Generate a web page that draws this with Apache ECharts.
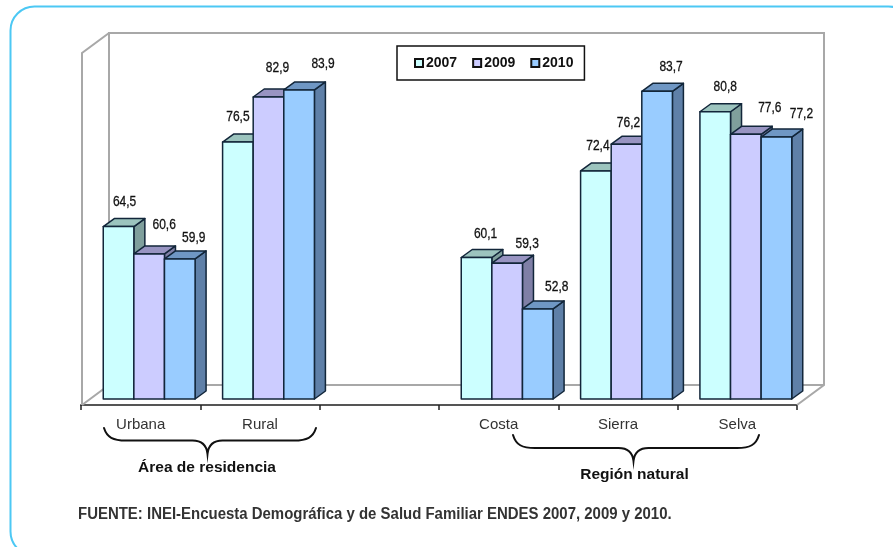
<!DOCTYPE html>
<html><head><meta charset="utf-8">
<style>html,body{margin:0;padding:0;background:#fff}#c{width:893px;height:547px}</style>
<script src="https://cdn.jsdelivr.net/npm/echarts@6/dist/echarts.min.js"></script>
</head><body><div id="c"></div>
<script>
const categories = ['Urbana', 'Rural', '', 'Costa', 'Sierra', 'Selva'];
const years = ['2007', '2009', '2010'];
const values2007 = [64.5, 76.5, null, 60.1, 72.4, 80.8];
const values2009 = [60.6, 82.9, null, 59.3, 76.2, 77.6];
const values2010 = [59.9, 83.9, null, 52.8, 83.7, 77.2];
const seriesValues = [values2007, values2009, values2010];

// appearance
const frontColors = ['#CCFFFF', '#CCCCFF', '#99CCFF'];
const topColors = ['#9CC4BE', '#9894C2', '#6F97C4'];
const sideColors = ['#7F9F9C', '#7F7FA6', '#5F80A8'];
const edge = '#12263A';
const barDepth = [11, -8], barShift = [8.5, -6], wallDepth = [27, -20];
// hand-placed value labels in the reference: [dx, dy] from the bar's front-top centre
const labelNudges = [
  [[6,-25],[0,-25],null,[9,-24],[2,-25],[10,-25]],
  [[15,-29],[9,-29],null,[20,-19],[2,-21],[24,-26]],
  [[14,-21],[24,-26],null,[19,-22],[14,-24],[25,-23]]
];

function poly(points, fill) {
  return {type:'polygon', shape:{points}, style:{fill, stroke:edge, lineWidth:1.5, lineJoin:'round'}};
}
function barRender(s) {
  return function (params, api) {
    const v = api.value(1);
    if (v == null || isNaN(v)) return;
    const i = api.value(0);
    const band = api.size([1, 0])[0];
    const w = band * 0.2565;
    const base = api.coord([i, 40]), top = api.coord([i, v]);
    const l = base[0] + barShift[0] + (s - 1.5) * w, r = l + w;
    const yt = top[1] + barShift[1], yb = base[1] + barShift[1];
    const [dx, dy] = barDepth;
    const nudge = labelNudges[s][i];
    return {type:'group', children:[
      poly([[r,yt],[r+dx,yt+dy],[r+dx,yb+dy],[r,yb]], sideColors[s]),
      poly([[l,yt],[l+dx,yt+dy],[r+dx,yt+dy],[r,yt]], topColors[s]),
      poly([[l,yt],[r,yt],[r,yb],[l,yb]], frontColors[s]),
      {type:'text', z2:100, x:(l+r)/2+nudge[0], y:yt+nudge[1], scaleX:0.8, style:{
        text:v.toFixed(1).replace('.', ','), align:'center', verticalAlign:'middle',
        font:'15px "Liberation Sans",sans-serif', fill:'#111', stroke:'#111', lineWidth:0.3}}
    ]};
  };
}
const braceStyle = {fill:'none', stroke:'#111', lineWidth:2, lineCap:'round'};
function brace(x1, x2, xm, y0, yh, yt) {
  return {type:'path', shape:{pathData:
    `M${x1} ${y0} C${x1+3} ${yh-3} ${x1+9} ${yh} ${x1+22} ${yh} L${xm-15} ${yh} C${xm-7} ${yh} ${xm-1} ${yh+4} ${xm} ${yt} ` +
    `C${xm+1} ${yh+4} ${xm+7} ${yh} ${xm+15} ${yh} L${x2-22} ${yh} C${x2-9} ${yh} ${x2-3} ${yh-3} ${x2} ${y0}`}, style:braceStyle};
}
function frameRender(params) {
  const c = params.coordSys;
  const x0 = c.x + 1, x1 = c.x + c.width, y0 = c.y, y1 = c.y + c.height;
  const [dx, dy] = wallDepth;
  const st = {fill:'none', stroke:'#A8A8A8', lineWidth:2};
  return {type:'group', children:[
    {type:'polyline', shape:{points:[[x0+dx,y1+dy],[x0+dx,y0+dy],[x1+dx,y0+dy],[x1+dx,y1+dy],[x1,y1]]}, style:st},
    {type:'polyline', shape:{points:[[x1+dx,y1+dy],[x0+dx,y1+dy],[x0,y1]]}, style:st},
    {type:'polyline', shape:{points:[[x0,y1],[x0,y0],[x0+dx,y0+dy]]}, style:st},
    brace(104, 316, 207.5, 428, 440.5, 454),
    brace(513, 759, 633.5, 435, 448, 461)
  ]};
}
function caption(text, x, y, font, fill) {
  return {type:'text', x, y, style:{text, font, fill, align:'center', verticalAlign:'middle'}, z:5};
}

const chart = echarts.init(document.getElementById('c'), null, {renderer:'canvas'});
chart.setOption({
  animation:false,
  backgroundColor:'#fff',
  grid:{left:81, top:53, width:716, height:352},
  xAxis:{type:'category', data:categories, boundaryGap:true,
    axisLine:{lineStyle:{color:'#555', width:2}},
    axisTick:{show:true, length:5, alignWithLabel:false, interval:0, lineStyle:{color:'#222', width:1.5}},
    axisLabel:{interval:0, margin:12, color:'#333', fontFamily:'Liberation Sans', fontSize:15}},
  yAxis:{type:'value', min:40, max:90, show:false, splitLine:{show:false}},
  legend:{left:397, top:46, orient:'horizontal', icon:'rect', data:years,
    itemWidth:8, itemHeight:8, itemGap:15, padding:[10,11,10,17],
    backgroundColor:'#fff', borderColor:'#111', borderWidth:1.5,
    selectedMode:false,
    textStyle:{color:'#111', fontFamily:'Liberation Sans', fontWeight:'bold', fontSize:14, padding:[0,0,0,-2]}},
  series:[
    {type:'custom', name:'frame', silent:true, z:1, data:[[0,40]], renderItem:frameRender, encode:{x:0,y:1}},
    ...years.map((y, s) => ({
      type:'custom', name:y, z:2, renderItem:barRender(s),
      itemStyle:{color:frontColors[s], borderColor:'#111', borderWidth:2},
      encode:{x:0, y:1},
      data:seriesValues[s].map((v, i) => [i, v])
    }))
  ],
  graphic:{elements:[
    {type:'rect', shape:{x:10.5, y:6.5, width:902, height:549, r:24}, style:{fill:'none', stroke:'#4CC8F4', lineWidth:2}, z:-1},
    caption('Área de residencia', 207, 467.5, 'bold 15.5px "Liberation Sans"', '#111'),
    caption('Región natural', 634.5, 475, 'bold 15.5px "Liberation Sans"', '#111'),
    {type:'text', x:78, y:515, z:5, scaleX:0.935, style:{text:'FUENTE: INEI-Encuesta Demográfica y de Salud Familiar ENDES 2007, 2009 y 2010.',
      font:'bold 16px "Liberation Sans"', fill:'#333', verticalAlign:'middle'}}
  ]}
});
</script></body></html>
